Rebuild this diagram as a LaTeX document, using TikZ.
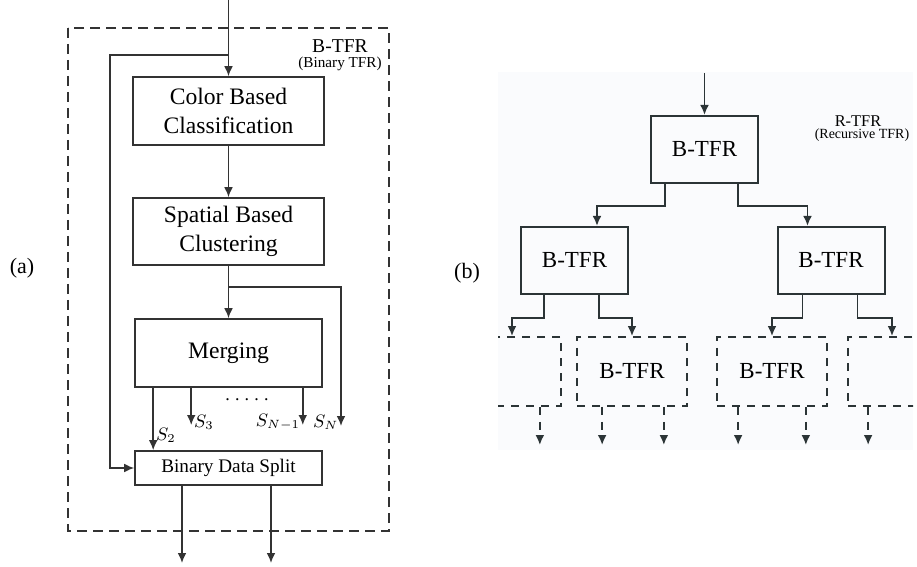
\documentclass[tikz,border=0pt]{standalone}
\usepackage{fontspec}
\setmainfont{Liberation Serif}
\usetikzlibrary{arrows.meta}
\definecolor{linea}{HTML}{333333}
\definecolor{lineb}{HTML}{2B3436}
\definecolor{paneb}{HTML}{FAFBFD}
\begin{document}
\begin{tikzpicture}[x=0.5pt,y=-0.5pt,
    blk/.style={draw=linea,line width=0.8pt,rectangle,inner sep=0pt,align=center,
      font=\fontsize{11.8}{14.5}\selectfont},
    flow/.style={draw=linea,line width=0.8pt,-{Latex[length=5pt,width=4.4pt]}},
    lbl/.style={font=\fontsize{9}{10}\selectfont,inner sep=1pt}]
    \tikzstyle{bblk}=[draw=lineb,line width=1pt,rectangle,inner sep=0pt,
      minimum width=53.5pt,minimum height=33.5pt,font=\fontsize{11.5}{13}\selectfont]
    \tikzstyle{gblk}=[draw=lineb,line width=0.85pt,dash pattern=on 4pt off 3.5pt,rectangle,
      inner sep=0pt,minimum width=55pt,minimum height=34.5pt,font=\fontsize{11.5}{13}\selectfont]
    \tikzstyle{flowb}=[draw=lineb,line width=0.95pt,-{Latex[length=5pt,width=4.4pt]}]

    \useasboundingbox (0,0) rectangle (917,567);

    % (a) binary TFR
    \draw[linea,line width=0.8pt,dash pattern=on 5pt off 3pt] (68,28) rectangle (389,531);
    \node[font=\fontsize{9.8}{11}\selectfont] (btfr) at (340,46) {B-TFR};
    \node[font=\fontsize{7.6}{9}\selectfont] (binary) at (340,64) {(Binary TFR)};

    \node[blk,minimum width=95.5pt,minimum height=34pt] (cbc) at (228.5,111) {Color Based\\Classification};
    \node[blk,minimum width=95.5pt,minimum height=33.5pt] (sbc) at (228.5,231.5) {Spatial Based\\Clustering};
    \node[blk,minimum width=93.5pt,minimum height=34pt] (mrg) at (228.5,353) {Merging};
    \node[blk,minimum width=93.5pt,minimum height=17pt,font=\fontsize{9.6}{11}\selectfont] (split) at (228.5,468) {Binary Data Split};

    \coordinate (ina) at (228.5,0);
    \coordinate (fb) at (228.5,55);
    \coordinate (fbl) at (110,55);
    \coordinate (br) at (228.5,287);
    \coordinate (sn) at (341,426);
    \coordinate (sbot) at (0,425);
    \coordinate (o1) at (182,563);
    \coordinate (o2) at (271,563);

    \draw[flow] (ina) -- (cbc);
    \draw[flow] (fb) -- (fbl) |- (split.west);
    \draw[flow] (cbc) -- (sbc);
    \draw[flow] (sbc) -- (mrg);
    \draw[flow] (br) -| (sn) node[lbl,anchor=east,yshift=2pt] {$S_N$};

    \coordinate (m2) at ([xshift=9.5pt]mrg.south west);
    \coordinate (m3) at ([xshift=28.5pt]mrg.south west);
    \coordinate (mn) at ([xshift=-10pt]mrg.south east);
    \draw[flow] (m2) -- (m2 |- split.north) node[lbl,pos=0.76,anchor=west] {$S_2$};
    \draw[flow] (m3) -- (m3 |- sbot) node[lbl,anchor=west,yshift=1.5pt] {$S_3$};
    \draw[flow] (mn) -- (mn |- sbot) node[lbl,anchor=east,yshift=1.5pt] {$S_{N-1}$};
    \node[lbl] (dots) at (247,400) {.\hspace{2.6pt}.\hspace{2.6pt}.\hspace{2.6pt}.\hspace{2.6pt}.};

    \draw[flow] (split.south -| o1) -- (o1);
    \draw[flow] (split.south -| o2) -- (o2);

    \node[font=\fontsize{11}{13}\selectfont] (pa) at (22,268) {(a)};

    % (b) recursive TFR
    \fill[paneb] (498,72) rectangle (913,450);
    \node[font=\fontsize{8.2}{9}\selectfont] (rtfr) at (858,121) {R-TFR};
    \node[font=\fontsize{7}{8}\selectfont] (recur) at (862,135) {(Recursive TFR)};

    \node[bblk] (top) at (704.5,149.5) {B-TFR};
    \node[bblk] (lc) at (574.5,260.5) {B-TFR};
    \node[bblk] (rc) at (831,260.5) {B-TFR};
    \begin{scope}
      \clip (498,72) rectangle (913,450);
      \node[gblk] (g1) at (506,371.5) {};
      \node[gblk] (g2) at (632,371.5) {B-TFR};
      \node[gblk] (g3) at (772,371.5) {B-TFR};
      \node[gblk] (g4) at (903,371.5) {};
    \end{scope}

    \coordinate (inb) at (704.5,73);
    \coordinate (bbot) at (0,445);
    \draw[flowb] (inb) -- (top);
    \draw[flowb] ([xshift=7.5pt]top.south west) -- ++(0,22) -| ([xshift=38.5pt]lc.north west);
    \draw[flowb] ([xshift=44pt]top.south west) -- ++(0,22) -| ([xshift=15.5pt]rc.north west);
    \draw[flowb] ([xshift=12pt]lc.south west) -- ++(0,23) -| ([xshift=3pt]g1.north);
    \draw[flowb] ([xshift=39.5pt]lc.south west) -- ++(0,23) -| (g2.north);
    \draw[flowb] ([xshift=13pt]rc.south west) -- ++(0,23) -| (g3.north);
    \draw[flowb] ([xshift=40.5pt]rc.south west) -- ++(0,23) -| ([xshift=-5.5pt]g4.north);

    \foreach \g/\s [count=\i] in {g1.south east/-11pt,g2.south west/13pt,g2.south east/-12pt,
        g3.south west/11pt,g3.south east/-11pt,g4.south west/10.5pt}{
      \coordinate (d\i) at ([xshift=\s]\g);
      \draw[flowb,line width=0.85pt,dash pattern=on 4pt off 3.5pt] (d\i) -- (d\i |- bbot);
    }

    \node[font=\fontsize{11}{13}\selectfont] (pb) at (467,273) {(b)};
  \end{tikzpicture}
\end{document}
